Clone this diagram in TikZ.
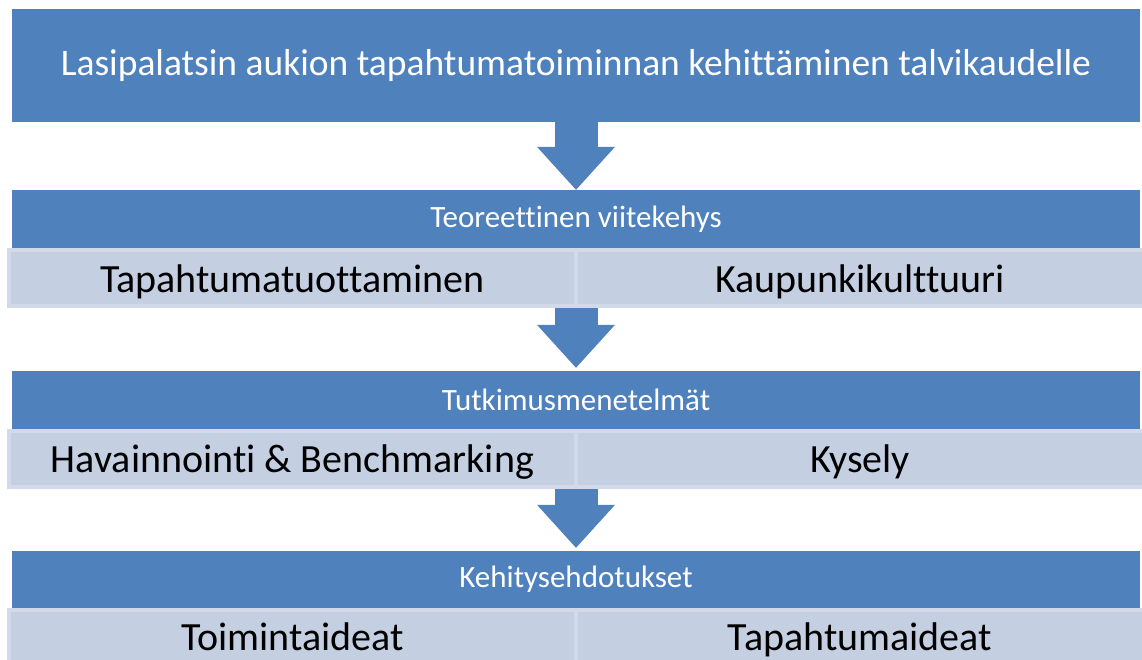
\documentclass[tikz,border=0pt]{standalone}
\usepackage{fontspec}
\setmainfont{Carlito}[Ligatures={NoCommon,NoContextual}]
\usetikzlibrary{arrows.meta}
\definecolor{hblue}{HTML}{4F81BD}
\definecolor{sfill}{RGB}{196,207,226}
\definecolor{sline}{RGB}{210,218,233}

\begin{document}
\begin{tikzpicture}[x=1pt,y=-1pt,
  hd/.style={fill=hblue,text=white,minimum width=1128pt,inner sep=0pt,font=\fontsize{31}{37}\selectfont},
  sb/.style={fill=sfill,draw=sline,line width=4pt,minimum height=56pt,inner sep=0pt,text height=28pt,text depth=0pt,font=\fontsize{40}{48}\selectfont},
  dn/.style={hblue,line width=43pt,-{Triangle[width=78pt,length=43pt,line width=0pt]}}]
\useasboundingbox (0,0) rectangle (1142,659);
\node[hd,minimum height=113pt,font=\fontsize{37.5}{45}\selectfont](t0) at(576,65.5){Lasipalatsin aukion tapahtumatoiminnan kehittäminen talvikaudelle};
% teoria
\node[hd,minimum height=58pt](h1) at(576,219){Teoreettinen viitekehys};
\node[sb,minimum width=567pt](s1a) at(292.5,278){Tapahtumatuottaminen};
\node[sb,minimum width=568pt](s1b) at(860,278){Kaupunkikulttuuri};
% menetelmat
\node[hd,minimum height=58pt](h2) at(576,400){Tutkimusmenetelmät};
\node[sb,minimum width=567pt](s2a) at(292.5,458.5){Havainnointi \& Benchmarking};
\node[sb,minimum width=568pt](s2b) at(860,458.5){Kysely};
% ehdotukset
\node[hd,minimum height=57pt](h3) at(576,579.5){Kehitysehdotukset};
\node[sb,minimum width=567pt,text depth=3pt](s3a) at(292.5,638){Toimintaideat};
\node[sb,minimum width=568pt,text depth=3pt](s3b) at(860,638){Tapahtumaideat};
\draw[dn](t0.south)--(h1.north);
\draw[dn,shorten >=3pt](h2.north |- s1a.south)--(h2.north);
\draw[dn,shorten >=3pt](h3.north |- s2a.south)--(h3.north);
\end{tikzpicture}
\end{document}
